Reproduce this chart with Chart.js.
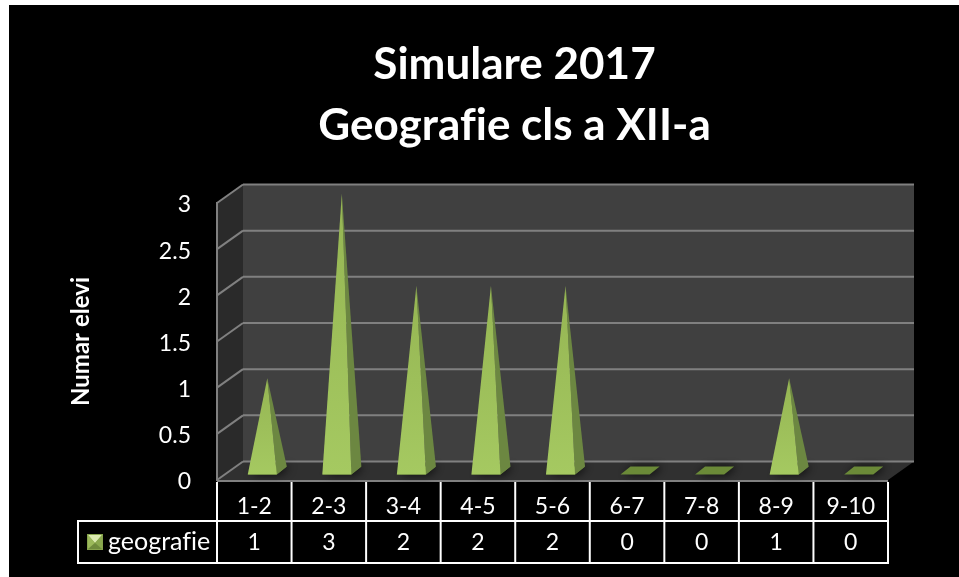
<!DOCTYPE html>
<html>
<head>
<meta charset="utf-8">
<title>Simulare 2017</title>
<script src="https://cdn.jsdelivr.net/npm/chart.js@4"></script>
<style>
    html, body { margin: 0; padding: 0; background: #ffffff; }
    #wrap { position: relative; width: 959px; height: 577px; overflow: hidden; }
</style>
</head>
<body>
<div id="wrap"><canvas id="pyramidChart" width="959" height="577"></canvas></div>
<script>
const categories = ['1-2', '2-3', '3-4', '4-5', '5-6', '6-7', '7-8', '8-9', '9-10'];
const geografie = [1, 3, 2, 2, 2, 0, 0, 1, 0];
const seriesName = 'geografie';
const titleLines = ['Simulare 2017', 'Geografie cls a XII-a'];
const yAxisTitle = 'Numar elevi';

// Set Default Font
Chart.defaults.font.family = "Lato, 'Open Sans', sans-serif";
Chart.defaults.color = '#ffffff';

// depth of the fake 3D box, and where the pyramids sit inside it
const wallDx = 26, wallDy = -18.5;
const midDx = 13, midDy = -9.5;
const baseDx = 5, baseDy = 4;

function poly(ctx, pts, fill) {
    ctx.beginPath();
    pts.forEach((p, i) => i ? ctx.lineTo(p[0], p[1]) : ctx.moveTo(p[0], p[1]));
    ctx.closePath();
    ctx.fillStyle = fill;
    ctx.fill();
}

function line(ctx, x1, y1, x2, y2, color, width) {
    ctx.beginPath();
    ctx.moveTo(x1, y1);
    ctx.lineTo(x2, y2);
    ctx.strokeStyle = color;
    ctx.lineWidth = width;
    ctx.stroke();
}

// Walls and floor behind the marks
const boxPlugin = {
    id: 'box',
    beforeDraw(chart) {
        const { ctx, chartArea: a, scales } = chart;
        // tiny spacing switches off the Lato "fi" ligature
        ctx.letterSpacing = '0.01px';
        ctx.save();
        ctx.fillStyle = '#000000';
        ctx.fillRect(9, 5, chart.width - 9, chart.height - 5);
        poly(ctx, [[a.left + wallDx, a.top + wallDy], [a.right + wallDx, a.top + wallDy], [a.right + wallDx, a.bottom + wallDy], [a.left + wallDx, a.bottom + wallDy]], '#404040');
        poly(ctx, [[a.left, a.top], [a.left + wallDx, a.top + wallDy], [a.left + wallDx, a.bottom + wallDy], [a.left, a.bottom]], '#2a2a2a');
        poly(ctx, [[a.left, a.bottom], [a.right, a.bottom], [a.right + wallDx, a.bottom + wallDy], [a.left + wallDx, a.bottom + wallDy]], '#303030');
        scales.y.ticks.forEach(t => {
            const y = scales.y.getPixelForValue(t.value);
            line(ctx, a.left, y, a.left + wallDx, y + wallDy, '#808080', 2);
            line(ctx, a.left + wallDx, y + wallDy, a.right + wallDx, y + wallDy, '#808080', 2);
        });
        line(ctx, a.left, a.top - 1, a.left, a.bottom + 1, '#808080', 2);
        line(ctx, a.left, a.bottom + 1, a.right, a.bottom + 1, '#808080', 2);
        ctx.restore();
    },
    // Pyramids, placed from the bar elements
    afterDatasetsDraw(chart) {
        const ctx = chart.ctx;
        ctx.save();
        chart.getDatasetMeta(0).data.forEach(bar => {
            const w = bar.width / 2;
            const cx = bar.x + midDx, cy = bar.base + midDy;
            const apex = [cx, bar.y + midDy];
            const fl = [cx - w - baseDx, cy + baseDy];
            const fr = [cx + w - baseDx, cy + baseDy];
            const br = [cx + w + baseDx, cy - baseDy];
            const bl = [cx - w + baseDx, cy - baseDy];
            ctx.save();
            ctx.shadowColor = 'rgba(0, 0, 0, 0.8)';
            ctx.shadowBlur = 9;
            ctx.shadowOffsetX = 3;
            poly(ctx, [fl, fr, br, bl], '#6b8a38');
            ctx.restore();
            if (bar.base - bar.y > 1) {
                poly(ctx, [apex, fr, br], '#6c8741');
                const g = ctx.createLinearGradient(0, apex[1], 0, fl[1]);
                g.addColorStop(0, '#95b553');
                g.addColorStop(1, '#a5c961');
                poly(ctx, [apex, fl, fr], g);
            }
        });
        ctx.restore();
    },
    // Data table under the axis
    afterDraw(chart) {
        const { ctx, chartArea: a, scales } = chart;
        const rowTop = 521, rowBottom = 563, tableLeft = 78;
        const step = (a.right - a.left) / categories.length;
        ctx.save();
        line(ctx, tableLeft, rowTop, a.right, rowTop, '#ffffff', 2);
        line(ctx, tableLeft, rowBottom, a.right, rowBottom, '#ffffff', 2);
        line(ctx, tableLeft, rowTop - 1, tableLeft, rowBottom + 1, '#ffffff', 2);
        for (let i = 0; i <= categories.length; i++) {
            const x = a.left + i * step;
            line(ctx, x, a.bottom + 2, x, rowBottom + 1, '#ffffff', 2);
        }
        ctx.fillStyle = '#ffffff';
        ctx.textBaseline = 'middle';
        ctx.textAlign = 'center';
        ctx.font = "23px Lato, 'Open Sans', sans-serif";
        geografie.forEach((v, i) => {
            ctx.fillText(String(v), scales.x.getPixelForValue(i), 543);
        });
        ctx.textAlign = 'left';
        ctx.font = "25px Lato, 'Open Sans', sans-serif";
        ctx.fillText(seriesName, 108, 542);

        // legend key
        ctx.fillStyle = '#86a34c';
        ctx.fillRect(87, 534, 16, 16);
        poly(ctx, [[88, 535], [102, 535], [95, 543]], '#dcebb0');
        poly(ctx, [[88, 535], [95, 543], [88, 549]], '#9bb95a');
        poly(ctx, [[102, 535], [95, 543], [102, 549]], '#8aa84e');
        poly(ctx, [[88, 549], [95, 543], [102, 549]], '#6f8a3c');
        ctx.restore();
    }
};

const ctx = document.getElementById('pyramidChart').getContext('2d');
new Chart(ctx, {
    type: 'bar',
    data: {
        labels: categories,
        datasets: [{
            label: seriesName,
            data: geografie,
            backgroundColor: 'transparent',
            borderWidth: 0,
            barPercentage: 0.39,
            categoryPercentage: 1
        }]
    },
    plugins: [boxPlugin],
    options: {
        responsive: false,
        animation: false,
        layout: { padding: { left: 70, right: 0, top: 0, bottom: 0 } },
        plugins: {
            legend: { display: false },
            tooltip: { enabled: false },
            title: {
                display: true,
                text: titleLines,
                color: '#ffffff',
                font: { size: 44, weight: 'bold', lineHeight: 1.386 },
                padding: { top: 34, bottom: 47 }
            }
        },
        scales: {
            x: {
                grid: { display: false, drawTicks: false },
                border: { display: false },
                ticks: { padding: 13, font: { size: 23 }, color: '#ffffff', maxRotation: 0 },
                afterFit: s => { s.height = 97; }
            },
            y: {
                min: 0,
                max: 3,
                grid: { display: false, drawTicks: false },
                border: { display: false },
                ticks: {
                    stepSize: 0.5,
                    padding: 26,
                    labelOffset: 2,
                    font: { size: 23 },
                    color: '#ffffff',
                    callback: v => String(v)
                },
                title: {
                    display: true,
                    text: yAxisTitle,
                    color: '#ffffff',
                    font: { size: 24, weight: 'bold' },
                    padding: { top: -3, bottom: 0 }
                },
                afterFit: s => { s.width = 147; }
            },
            // keeps the plot 71px off the right edge while the title stays centred on the full width
            spacer: {
                type: 'linear',
                position: 'right',
                display: true,
                grid: { display: false, drawTicks: false },
                border: { display: false },
                ticks: { display: false },
                afterFit: s => { s.width = 71; }
            }
        }
    }
});
</script>
</body>
</html>
